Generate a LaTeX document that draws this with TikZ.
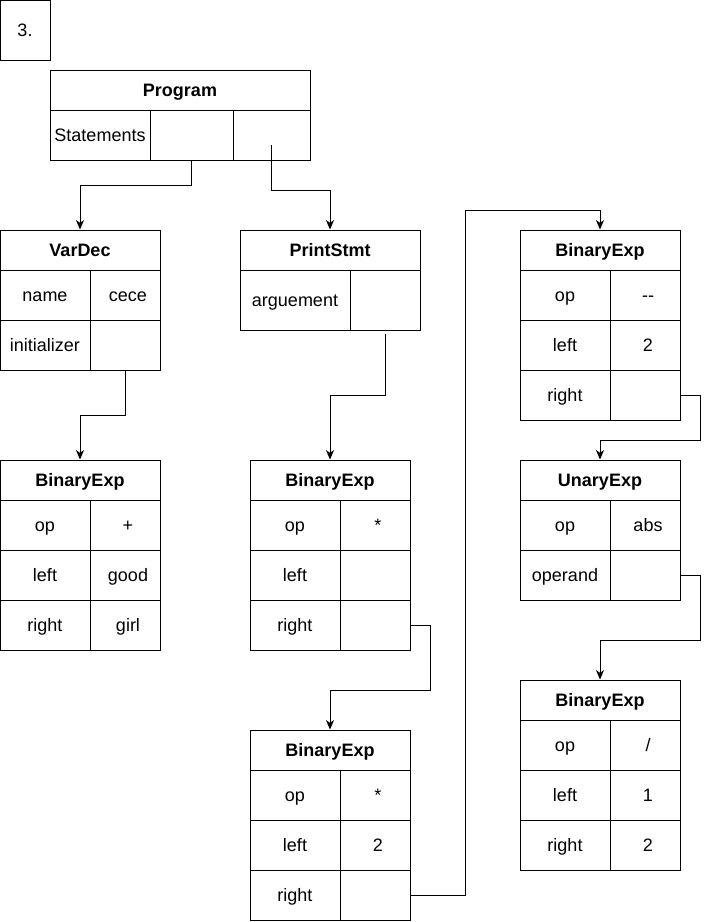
\documentclass[tikz,border=0pt]{standalone}
\usepackage{fontspec}
\setmainfont{Liberation Sans}
\usetikzlibrary{arrows.meta}

% one unit = one pixel of the layout grid; y grows downwards
\tikzset{
  cellbox/.style={draw=black, line width=0.75pt, inner sep=0pt, align=center,
    anchor=center, font=\fontsize{13.5}{15}\selectfont,
    text height=11.2pt, text depth=0.8pt},
  headbox/.style={cellbox, font=\fontsize{13.5}{15}\selectfont\bfseries},
  link/.style={draw=black, line width=0.75pt,
    -{Stealth[length=7pt, width=6pt, inset=2pt]}},
}
% \tcell{name}{x1}{y1}{x2}{y2}{text}: a box spanning the given corners
\newcommand{\tcell}[7][cellbox]{%
  \node[#1, minimum width={(#5-#3)*0.75pt}, minimum height={(#6-#4)*0.75pt}]
    (#2) at ({(#3+#5)/2},{(#4+#6)/2}) {#7};}
\newcommand{\thead}[6]{\tcell[headbox]{#1}{#2}{#3}{#4}{#5}{#6}}

\begin{document}
\begin{tikzpicture}[x=0.75pt, y=-0.75pt]
\useasboundingbox (0,0) rectangle (710,922);

% label box
\tcell{num}{0}{0}{50}{60}{3.}

% Program
\thead{prog}{50}{70}{310}{110}{Program}
\tcell{progst}{50}{110}{150}{160}{Statements}
\tcell{progs1}{150}{110}{233}{160}{}
\tcell{progs2}{233}{110}{310}{160}{}

% VarDec
\thead{vd}{0}{230}{160}{270}{VarDec}
\tcell{vdname}{0}{270}{90}{320}{name}
\tcell{vdnamev}{90}{270}{160}{320}{\,\,cece}
\tcell{vdinit}{0}{320}{90}{370}{initializer}
\tcell{vdinitv}{90}{320}{160}{370}{}

% BinaryExp under VarDec
\thead{ba}{0}{460}{160}{500}{BinaryExp}
\tcell{baop}{0}{500}{90}{550}{op}
\tcell{baopv}{90}{500}{160}{550}{\,\,+}
\tcell{baleft}{0}{550}{90}{600}{left}
\tcell{baleftv}{90}{550}{160}{600}{\,\,good}
\tcell{baright}{0}{600}{90}{650}{right}
\tcell{barightv}{90}{600}{160}{650}{\,\,girl}

% PrintStmt
\thead{ps}{240}{230}{420}{270}{PrintStmt}
\tcell{psarg}{240}{270}{350}{330}{arguement}
\tcell{psargv}{350}{270}{420}{330}{}

% BinaryExp under PrintStmt
\thead{bb}{250}{460}{410}{500}{BinaryExp}
\tcell{bbop}{250}{500}{340}{550}{op}
\tcell{bbopv}{340}{500}{410}{550}{\,\,*}
\tcell{bbleft}{250}{550}{340}{600}{left}
\tcell{bbleftv}{340}{550}{410}{600}{}
\tcell{bbright}{250}{600}{340}{650}{right}
\tcell{bbrightv}{340}{600}{410}{650}{}

% BinaryExp (second level)
\thead{bc}{250}{730}{410}{770}{BinaryExp}
\tcell{bcop}{250}{770}{340}{820}{op}
\tcell{bcopv}{340}{770}{410}{820}{\,\,*}
\tcell{bcleft}{250}{820}{340}{870}{left}
\tcell{bcleftv}{340}{820}{410}{870}{\,\,2}
\tcell{bcright}{250}{870}{340}{920}{right}
\tcell{bcrightv}{340}{870}{410}{920}{}

% BinaryExp (decrement)
\thead{bd}{520}{230}{680}{270}{BinaryExp}
\tcell{bdop}{520}{270}{610}{320}{op}
\tcell{bdopv}{610}{270}{680}{320}{\,\,-{}-}
\tcell{bdleft}{520}{320}{610}{370}{left}
\tcell{bdleftv}{610}{320}{680}{370}{\,\,2}
\tcell{bdright}{520}{370}{610}{420}{right}
\tcell{bdrightv}{610}{370}{680}{420}{}

% UnaryExp
\thead{ue}{520}{460}{680}{500}{UnaryExp}
\tcell{ueop}{520}{500}{610}{550}{op}
\tcell{ueopv}{610}{500}{680}{550}{\,\,abs}
\tcell{ueopd}{520}{550}{610}{600}{operand}
\tcell{ueopdv}{610}{550}{680}{600}{}

% BinaryExp (division)
\thead{be}{520}{680}{680}{720}{BinaryExp}
\tcell{beop}{520}{720}{610}{770}{op}
\tcell{beopv}{610}{720}{680}{770}{\,\,/}
\tcell{beleft}{520}{770}{610}{820}{left}
\tcell{beleftv}{610}{770}{680}{820}{\,\,1}
\tcell{beright}{520}{820}{610}{870}{right}
\tcell{berightv}{610}{820}{680}{870}{\,\,2}

% connectors
\draw[link] (progs1.south) -- ++(0,25) -| (vd.north);
\coordinate (p2) at ([yshift=-7.5pt]progs2.center);
\draw[link] (p2) |- (330,190) -- (ps.north);
\draw[link] (vdinitv.south) -- ++(0,45) -| (ba.north);
\draw[link] ([yshift=-2.25pt]psargv.south) -- ++(0,62) -| (bb.north);
\draw[link] (bbrightv.east) -- ++(20,0) |- (330,690) -- (bc.north);
\draw[link] (bcrightv.east) -- ++(55,0) |- (600,210) -- (bd.north);
\draw[link] (bdrightv.east) -- ++(20,0) |- (600,440) -- (ue.north);
\draw[link] (ueopdv.east) -- ++(20,0) |- (600,640) -- (be.north);
\end{tikzpicture}
\end{document}
